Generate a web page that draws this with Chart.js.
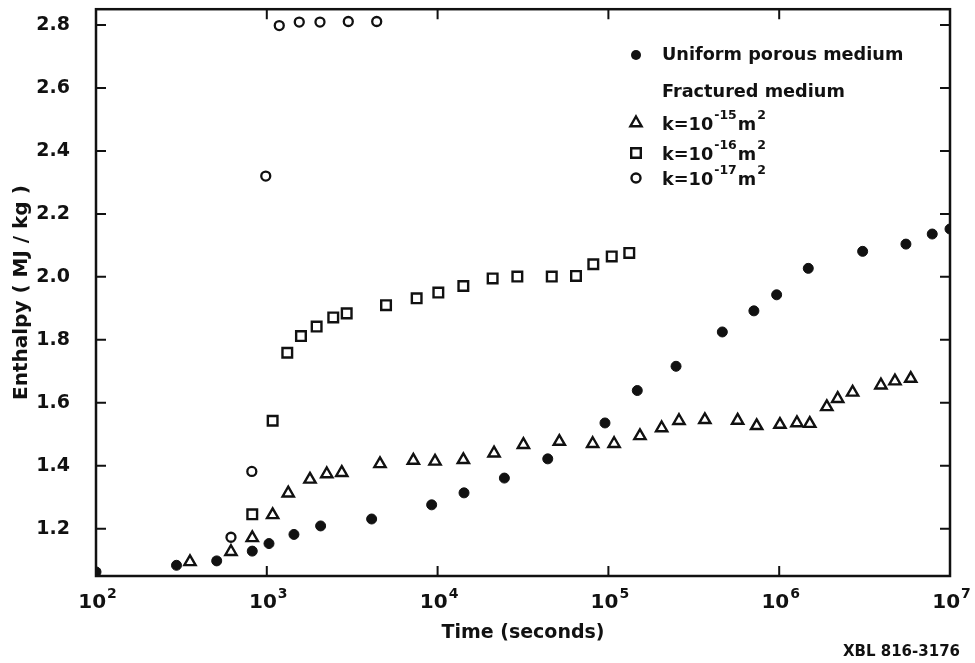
<!DOCTYPE html>
<html>
<head>
<meta charset="utf-8">
<title>Enthalpy vs time</title>
<script src="https://cdn.jsdelivr.net/npm/chart.js@4.4.0/dist/chart.umd.min.js"></script>
<style>
  html, body { margin: 0; padding: 0; background: #fff; }
  #wrap { width: 975px; height: 663px; }
</style>
</head>
<body>
<div id="wrap"><canvas id="chart" width="975" height="663"></canvas></div>
<script>
// values: time (s) and enthalpy (MJ/kg)
let uniformTime = [100, 296, 509, 822, 1030, 1442, 2066, 4110, 9230, 14280, 24600, 44150, 95500, 147600, 248900, 464500, 711000, 966000, 1480000, 3080000, 5520000, 7870000, 10000000];
let uniformH = [1.063, 1.084, 1.098, 1.129, 1.153, 1.182, 1.209, 1.231, 1.276, 1.314, 1.361, 1.422, 1.536, 1.639, 1.716, 1.825, 1.892, 1.943, 2.027, 2.081, 2.104, 2.136, 2.152];

let k15Time = [355, 617, 822, 1082, 1335, 1790, 2245, 2748, 4600, 7210, 9660, 14150, 21400, 31800, 51600, 80900, 108000, 153000, 205000, 259000, 367000, 571000, 738000, 1010000, 1270000, 1510000, 1900000, 2200000, 2690000, 3940000, 4760000, 5890000];
let k15H = [1.095, 1.127, 1.171, 1.244, 1.313, 1.357, 1.374, 1.378, 1.406, 1.417, 1.414, 1.419, 1.440, 1.467, 1.477, 1.470, 1.470, 1.495, 1.520, 1.543, 1.546, 1.544, 1.527, 1.531, 1.536, 1.534, 1.587, 1.613, 1.633, 1.656, 1.669, 1.677];

let k16Time = [822, 1082, 1318, 1585, 1958, 2450, 2936, 4990, 7540, 10100, 14150, 21000, 29300, 46600, 64600, 81600, 104600, 132500];
let k16H = [1.246, 1.543, 1.759, 1.812, 1.842, 1.871, 1.884, 1.910, 1.932, 1.950, 1.971, 1.995, 2.001, 2.001, 2.003, 2.040, 2.065, 2.076];

let k17Time = [617, 817, 986, 1183, 1549, 2048, 3000, 4400];
let k17H = [1.173, 1.382, 2.320, 2.798, 2.809, 2.809, 2.811, 2.811];

let xDecades = [100, 1000, 10000, 100000, 1000000, 10000000];
let xExponents = ['2', '3', '4', '5', '6', '7'];
let yTicks = [1.2, 1.4, 1.6, 1.8, 2.0, 2.2, 2.4, 2.6, 2.8];

let legendItems = [
  { style: 'dot', text: 'Uniform porous medium' },
  { style: 'none', text: 'Fractured medium' },
  { style: 'triangle', exp: '-15' },
  { style: 'square', exp: '-16' },
  { style: 'ring', exp: '-17' }
];

let ink = '#111';
let fontFam = '"DejaVu Sans", sans-serif';

function toPoints(xs, ys){
  return xs.map((x, i) => ({ x: x, y: ys[i] }));
}

function drawMarker(ctx, style, x, y){
  ctx.save();
  ctx.strokeStyle = ink;
  ctx.fillStyle = ink;
  ctx.lineWidth = 2.4;
  ctx.beginPath();
  if (style === 'dot') {
    ctx.arc(x, y, 5, 0, Math.PI * 2);
    ctx.fill();
  } else if (style === 'ring') {
    ctx.arc(x, y, 4.5, 0, Math.PI * 2);
    ctx.stroke();
  } else if (style === 'square') {
    ctx.rect(x - 4.8, y - 4.8, 9.6, 9.6);
    ctx.stroke();
  } else if (style === 'triangle') {
    ctx.moveTo(x, y - 6.5);
    ctx.lineTo(x + 5.6, y + 3.2);
    ctx.lineTo(x - 5.6, y + 3.2);
    ctx.closePath();
    ctx.stroke();
  }
  ctx.restore();
}

function noPad(axis){
  axis.paddingTop = 0;
  axis.paddingBottom = 0;
  axis.paddingLeft = 0;
  axis.paddingRight = 0;
}

// frame, inward ticks, power-of-ten labels, legend, figure code
let decorations = {
  id: 'decorations',
  afterDraw(chart){
    let ctx = chart.ctx;
    let area = chart.chartArea;
    let xs = chart.scales.x;
    let ys = chart.scales.y;

    ctx.save();
    ctx.strokeStyle = ink;
    ctx.lineWidth = 2.5;
    ctx.strokeRect(area.left, area.top, area.right - area.left, area.bottom - area.top);

    ctx.lineWidth = 2;
    ctx.beginPath();
    yTicks.forEach(v => {
      let py = ys.getPixelForValue(v);
      ctx.moveTo(area.left, py); ctx.lineTo(area.left + 10, py);
      ctx.moveTo(area.right, py); ctx.lineTo(area.right - 10, py);
    });
    xDecades.slice(1, -1).forEach(v => {
      let px = xs.getPixelForValue(v);
      ctx.moveTo(px, area.bottom); ctx.lineTo(px, area.bottom - 10);
      ctx.moveTo(px, area.top); ctx.lineTo(px, area.top + 10);
    });
    ctx.stroke();

    // x tick labels as 10 with a raised exponent
    ctx.fillStyle = ink;
    ctx.textBaseline = 'alphabetic';
    ctx.textAlign = 'left';
    xDecades.forEach((v, i) => {
      let px = xs.getPixelForValue(v);
      ctx.font = 'bold 20px ' + fontFam;
      let w1 = ctx.measureText('10').width;
      ctx.font = 'bold 14px ' + fontFam;
      let w2 = ctx.measureText(xExponents[i]).width;
      let start = px - (w1 + w2) / 2 + 1;
      ctx.font = 'bold 20px ' + fontFam;
      ctx.fillText('10', start, area.bottom + 32);
      ctx.font = 'bold 14px ' + fontFam;
      ctx.fillText(xExponents[i], start + w1 + 1, area.bottom + 22);
    });

    // legend
    let lx = 636;
    let tx = 662;
    let rows = [55, 92, 123, 153, 178];
    legendItems.forEach((item, i) => {
      let y = rows[i];
      drawMarker(ctx, item.style, lx, y);
      ctx.textBaseline = 'middle';
      if (item.text) {
        ctx.font = 'bold 17.7px ' + fontFam;
        ctx.fillText(item.text, tx, y);
      } else {
        let x = tx;
        ctx.font = 'bold 17.7px ' + fontFam;
        ctx.fillText('k=10', x, y + 2);
        x += ctx.measureText('k=10').width + 1;
        ctx.font = 'bold 12.5px ' + fontFam;
        ctx.fillText(item.exp, x, y - 7);
        x += ctx.measureText(item.exp).width + 1;
        ctx.font = 'bold 17.7px ' + fontFam;
        ctx.fillText('m', x, y + 2);
        x += ctx.measureText('m').width + 1;
        ctx.font = 'bold 12.5px ' + fontFam;
        ctx.fillText('2', x, y - 7);
      }
    });

    ctx.font = 'bold 15px ' + fontFam;
    ctx.textAlign = 'right';
    ctx.textBaseline = 'middle';
    ctx.fillText('XBL 816-3176', 960, 652);
    ctx.restore();
  }
};

let canvas = document.getElementById('chart');

new Chart(canvas, {
  type: 'scatter',
  data: {
    datasets: [{
      label: 'Uniform porous medium',
      data: toPoints(uniformTime, uniformH),
      pointStyle: 'circle',
      pointRadius: 5,
      backgroundColor: ink,
      borderColor: ink,
      borderWidth: 1
    }, {
      label: 'k=10-15 m2',
      data: toPoints(k15Time, k15H),
      pointStyle: 'triangle',
      pointRadius: 6.5,
      backgroundColor: 'rgba(0,0,0,0)',
      borderColor: ink,
      borderWidth: 2.4
    }, {
      label: 'k=10-16 m2',
      data: toPoints(k16Time, k16H),
      pointStyle: 'rect',
      pointRadius: 6.8,
      backgroundColor: 'rgba(0,0,0,0)',
      borderColor: ink,
      borderWidth: 2.4
    }, {
      label: 'k=10-17 m2',
      data: toPoints(k17Time, k17H),
      pointStyle: 'circle',
      pointRadius: 4.5,
      backgroundColor: 'rgba(0,0,0,0)',
      borderColor: ink,
      borderWidth: 2.3
    }]
  },
  options: {
    responsive: false,
    animation: false,
    layout: { padding: { top: 9, right: 25, left: 0, bottom: 0 } },
    plugins: {
      legend: { display: false },
      tooltip: { enabled: false }
    },
    scales: {
      x: {
        type: 'logarithmic',
        min: 100,
        max: 10000000,
        afterBuildTicks: axis => { axis.ticks = xDecades.map(v => ({ value: v })); },
        afterFit: axis => { axis.height = 87; noPad(axis); },
        grid: { display: false },
        border: { display: false },
        ticks: { display: false },
        title: {
          display: true,
          text: 'Time (seconds)',
          color: ink,
          font: { family: fontFam, size: 19, weight: 'bold' },
          padding: { top: 0, bottom: 19 }
        }
      },
      y: {
        min: 1.05,
        max: 2.85,
        afterBuildTicks: axis => { axis.ticks = yTicks.map(v => ({ value: v })); },
        afterFit: axis => { axis.width = 96; noPad(axis); },
        grid: { display: false },
        border: { display: false },
        ticks: {
          color: ink,
          padding: 18,
          font: { family: fontFam, size: 19, weight: 'bold' },
          callback: v => v.toFixed(1)
        },
        title: {
          display: true,
          text: 'Enthalpy ( MJ / kg )',
          color: ink,
          font: { family: fontFam, size: 20, weight: 'bold' },
          padding: { top: 10, bottom: 0 }
        }
      }
    }
  },
  plugins: [decorations]
});
</script>
</body>
</html>
